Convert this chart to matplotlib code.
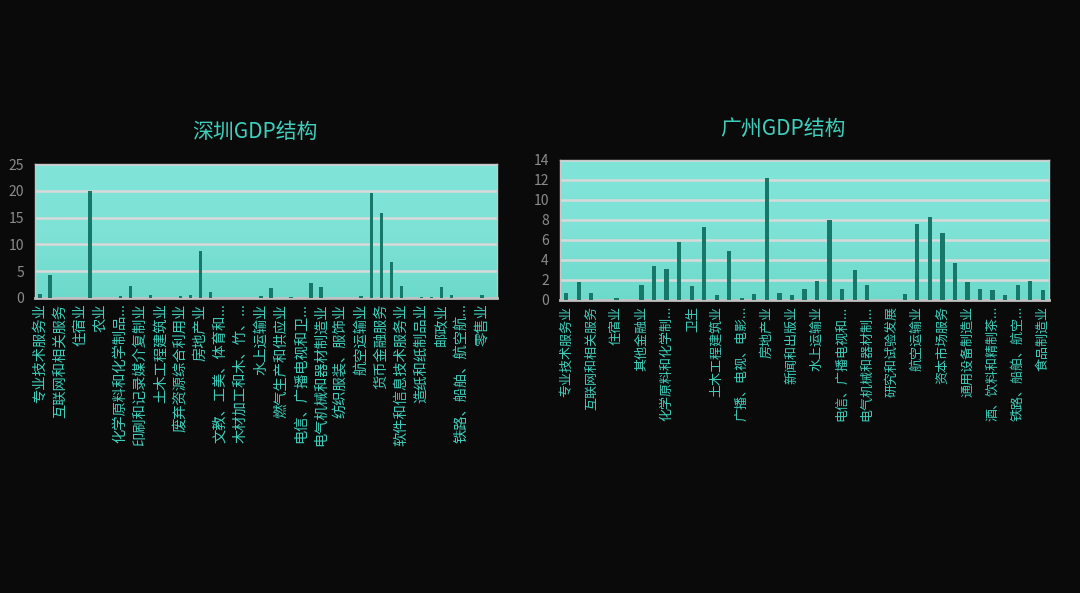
import numpy as np
import matplotlib
matplotlib.use('Agg')
import matplotlib.pyplot as plt

plt.rcParams['font.family'] = ['Noto Sans CJK SC', 'DejaVu Sans']

# 深圳: 46 categories, only every other label is shown on the axis
sz_labels = ['专业技术服务业', '互联网和相关服务', '住宿业', '农业', '化学原料和化学制品...',
             '印刷和记录媒介复制业', '土木工程建筑业', '废弃资源综合利用业', '房地产业',
             '文教、工美、体育和...', '木材加工和木、竹、...', '水上运输业', '燃气生产和供应业',
             '电信、广播电视和卫...', '电气机械和器材制造业', '纺织服装、服饰业', '航空运输业',
             '货币金融服务', '软件和信息技术服务业', '造纸和纸制品业', '邮政业',
             '铁路、船舶、航空航...', '零售业']
sz_values = [0.8, 4.3, 0, 0, 0, 20.0, 0, 0, 0.3, 2.3,
             0, 0.5, 0, 0, 0.3, 0.6, 8.8, 1.1, 0, 0,
             0, 0, 0.3, 1.8, 0, 0.2, 0, 2.8, 2.1, 0,
             0, 0, 0.3, 19.6, 15.8, 6.8, 2.3, 0, 0.2, 0.2,
             2.1, 0.5, 0, 0, 0.5, 0]

# 广州: 39 categories
gz_labels = ['专业技术服务业', '互联网和相关服务', '住宿业', '其他金融业', '化学原料和化学制...',
             '卫生', '土木工程建筑业', '广播、电视、电影...', '房地产业', '新闻和出版业',
             '水上运输业', '电信、广播电视和...', '电气机械和器材制...', '研究和试验发展',
             '航空运输业', '资本市场服务', '通用设备制造业', '酒、饮料和精制茶...',
             '铁路、船舶、航空...', '食品制造业']
gz_values = [0.7, 1.8, 0.7, 0, 0.2, 0, 1.5, 3.4, 3.1, 5.8,
             1.4, 7.3, 0.45, 4.9, 0.2, 0.6, 12.2, 0.7, 0.45, 1.1,
             1.9, 8.0, 1.1, 3.0, 1.5, 0, 0, 0.6, 7.6, 8.25,
             6.65, 3.7, 1.8, 1.1, 0.95, 0.45, 1.5, 1.9, 0.95]

bg = '#0a0a0a'
teal = '#3fcfbc'
bar_color = '#17786a'
grid_color = '#d9d9d9'

fig = plt.figure(figsize=(10.8, 5.93), dpi=100)
fig.patch.set_facecolor(bg)


def draw(ax, values, labels, ymax, ystep, title, title_x, title_pad, label_size, width):
    n = len(values)
    x = np.arange(n)
    # gradient plot background
    grad = np.linspace(0, 1, 100).reshape(-1, 1)
    cmap = matplotlib.colors.LinearSegmentedColormap.from_list(
        'bgc', ['#6cdacb', '#7fe2d6', '#80e4d8'])
    ax.imshow(grad, aspect='auto', cmap=cmap, origin='lower',
              extent=(-0.5, n - 0.5, 0, ymax), zorder=0)
    ax.bar(x, values, width=width, color=bar_color, zorder=3)
    ax.set_xlim(-0.5, n - 0.5)
    ax.set_ylim(0, ymax)
    ax.set_yticks(np.arange(0, ymax + 0.1, ystep))
    ax.yaxis.grid(True, color=grid_color, lw=1.8, zorder=1)
    ax.set_axisbelow(True)
    ax.set_xticks(x[::2])
    ax.set_xticklabels(labels, rotation=90, fontsize=label_size, color=teal)
    ax.tick_params(axis='x', length=0, pad=4)
    ax.tick_params(axis='y', length=0, colors='#8c8c8c', labelsize=10, pad=8)
    for s in ['left', 'right', 'top']:
        ax.spines[s].set_color('#c8c8c8')
        ax.spines[s].set_linewidth(1)
    ax.spines['bottom'].set_color('#c0c0c0')
    ax.spines['bottom'].set_linewidth(2)
    ax.set_title(title, color=teal, fontsize=15, x=title_x, pad=title_pad)


ax1 = fig.add_axes([0.0324, 0.4975, 0.4276, 0.2259])
draw(ax1, sz_values, sz_labels, 25, 5, '深圳GDP结构', 0.476, 19, 10.3, 0.36)

ax2 = fig.add_axes([0.5185, 0.4941, 0.4528, 0.2361])
draw(ax2, gz_values, gz_labels, 14, 2, '广州GDP结构', 0.456, 18, 9.4, 0.34)

plt.savefig('out.png', dpi=100, facecolor=bg)
